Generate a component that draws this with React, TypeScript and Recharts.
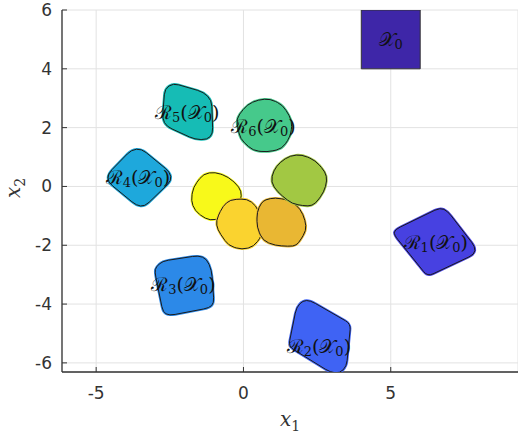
import { ScatterChart, Scatter, XAxis, YAxis, CartesianGrid, Label } from "recharts";

type Pair = [number, number];

const xTicks = [-5, 0, 5];
const yTicks = [-6, -4, -2, 0, 2, 4, 6];

// initial set and reachable sets, vertices
const initialSet: Pair[] = [[4, 4], [6, 4], [6, 6], [4, 6]];
const reach1: Pair[] = [[5.14, -1.47], [6.68, -0.72], [6.93, -0.84], [7.87, -2.06], [7.84, -2.31], [6.25, -3.06], [5.11, -1.64]];
const reach2: Pair[] = [[1.8, -4.11], [2.02, -3.88], [2.27, -3.88], [3.64, -4.67], [3.5, -6.12], [3.27, -6.35], [2.95, -6.32], [1.53, -5.44]];
const reach3: Pair[] = [[-2.97, -2.74], [-2.75, -2.54], [-1.53, -2.35], [-1.25, -2.46], [-1.08, -2.86], [-1.0, -3.97], [-1.16, -4.13], [-2.52, -4.39], [-2.73, -4.28], [-3.01, -2.91]];
const reach4: Pair[] = [[-4.6, 0.43], [-3.8, 1.25], [-3.46, 1.28], [-2.5, 0.49], [-2.44, 0.2], [-3.35, -0.68], [-3.63, -0.65], [-4.6, 0.15]];
const reach5: Pair[] = [[-2.67, 3.32], [-2.39, 3.51], [-1.36, 3.21], [-1.08, 2.93], [-1.04, 1.79], [-1.23, 1.59], [-1.65, 1.6], [-2.61, 2.04], [-2.75, 2.3]];
const reach6: Pair[] = [[0.12, 2.78], [0.51, 2.95], [0.91, 2.98], [1.34, 2.76], [1.65, 2.24], [1.61, 1.73], [1.31, 1.28], [0.8, 1.17], [0.32, 1.22], [-0.11, 1.62], [-0.25, 2.3]];
const reachYellow: Pair[] = [[-1.36, 0.43], [-0.96, 0.49], [-0.51, 0.32], [-0.14, -0.02], [-0.05, -0.31], [-0.17, -0.65], [-0.96, -1.16], [-1.3, -1.1], [-1.65, -0.82], [-1.78, -0.48], [-1.7, -0.02]];
const reachLightOrange: Pair[] = [[-0.45, -0.45], [0.12, -0.42], [0.43, -0.65], [0.63, -1.16], [0.66, -1.61], [0.36, -2.04], [-0.05, -2.15], [-0.51, -2.01], [-0.88, -1.47], [-0.93, -1.16], [-0.7, -0.67]];
const reachOrange: Pair[] = [[0.74, -0.45], [1.08, -0.38], [1.59, -0.48], [1.93, -0.76], [2.1, -1.16], [2.13, -1.5], [1.87, -1.93], [1.7, -2.04], [1.08, -2.01], [0.66, -1.84], [0.46, -1.39], [0.46, -0.87], [0.6, -0.57]];
const reachGreen: Pair[] = [[1.25, 0.83], [1.59, 1.05], [1.99, 1.08], [2.44, 0.88], [2.78, 0.49], [2.84, 0.2], [2.73, -0.19], [2.44, -0.59], [2.21, -0.68], [1.65, -0.59], [1.16, -0.19], [0.93, 0.15], [1.02, 0.54]];

const setColors = ["#3e26a8", "#4741e1", "#3f63f4", "#2c89e8", "#1ea8dc", "#16bcb5", "#46c98b", "#f8f91a", "#fad32f", "#e9b733", "#a2c843"];
const setList = [initialSet, reach1, reach2, reach3, reach4, reach5, reach6, reachYellow, reachLightOrange, reachOrange, reachGreen];

const labelNames = ["0", "1", "2", "3", "4", "5", "6"];
const labelX = [5, 6.53, 2.56, -2.04, -3.58, -1.91, 0.68];
const labelY = [5, -1.9, -5.41, -3.31, 0.32, 2.53, 2.07];

const labelData = labelNames.map((n, i) => ({ x: labelX[i], y: labelY[i], name: n }));

// closed path through the scaled points, corners softened a little
function roundedPath(pts: { x: number; y: number }[], r: number) {
  const n = pts.length;
  let d = "";
  for (let i = 0; i < n; i++) {
    const prev = pts[(i - 1 + n) % n];
    const cur = pts[i];
    const next = pts[(i + 1) % n];
    const l1 = Math.hypot(cur.x - prev.x, cur.y - prev.y) || 1;
    const l2 = Math.hypot(next.x - cur.x, next.y - cur.y) || 1;
    const r1 = Math.min(r, l1 / 2);
    const r2 = Math.min(r, l2 / 2);
    const a = { x: cur.x + ((prev.x - cur.x) * r1) / l1, y: cur.y + ((prev.y - cur.y) * r1) / l1 };
    const b = { x: cur.x + ((next.x - cur.x) * r2) / l2, y: cur.y + ((next.y - cur.y) * r2) / l2 };
    d += `${i ? "L" : "M"}${a.x},${a.y}Q${cur.x},${cur.y} ${b.x},${b.y}`;
  }
  return d + "Z";
}

const polygonLine = (fill: string, sharp: boolean) => (props: any) => {
  const pts = (props.points || []) as { x: number; y: number }[];
  if (!pts.length) return <g />;
  if (sharp) {
    const d = pts.map((p, i) => `${i ? "L" : "M"}${p.x},${p.y}`).join("") + "Z";
    return <path d={d} fill={fill} stroke="#333" strokeWidth={1} />;
  }
  const d = roundedPath(pts, 6);
  return (
    <g>
      <path d={d} fill={fill} stroke={fill} strokeWidth={2.5} strokeLinejoin="round" />
      <path d={d} fill="none" stroke="#1a1a1a" strokeWidth={1} strokeLinejoin="round" />
    </g>
  );
};

const mathFont = "'DejaVu Serif', 'Liberation Serif', serif";

const SetLabel = (props: any) => {
  const { cx, cy, payload } = props;
  if (payload.name === "0") {
    return (
      <text x={cx} y={cy} textAnchor="middle" dominantBaseline="central" fontFamily={mathFont} fontSize={19} fill="#111">
        <tspan>𝒳</tspan>
        <tspan fontSize={13} dy={5}>0</tspan>
      </text>
    );
  }
  return (
    <text x={cx} y={cy} textAnchor="middle" dominantBaseline="central" fontFamily={mathFont} fontSize={19} fill="#111">
      <tspan>ℛ</tspan>
      <tspan fontSize={13} dy={5}>{payload.name}</tspan>
      <tspan dy={-5}>(𝒳</tspan>
      <tspan fontSize={13} dy={5}>0</tspan>
      <tspan dy={-5}>)</tspan>
    </text>
  );
};

const tickStyle = { fill: "#333", fontSize: 17, fontFamily: "'DejaVu Sans', sans-serif" };

export default function App() {
  return (
    <div style={{ position: "absolute", left: 0, top: 0, width: 518, height: 437, background: "#fff" }}>
      <ScatterChart width={518} height={437} margin={{ top: 10, right: 0, bottom: 0, left: 0 }}>
        <CartesianGrid stroke="#e2e2e2" strokeWidth={1} />
        <XAxis
          type="number"
          dataKey="x"
          domain={[-6.16, 9.32]}
          ticks={xTicks}
          allowDataOverflow
          height={65}
          tickSize={-5}
          tickMargin={20}
          tick={tickStyle}
          tickLine={{ stroke: "#333" }}
          axisLine={{ stroke: "#333", strokeWidth: 1.3 }}
        >
          <Label
            content={(p: any) => {
              const vb = p.viewBox || { x: 62, y: 372, width: 456 };
              return (
                <text x={vb.x + vb.width / 2} y={vb.y + 54} textAnchor="middle" fontFamily={mathFont} fontStyle="italic" fontSize={20} fill="#333">
                  <tspan>x</tspan>
                  <tspan fontSize={14} fontStyle="normal" dy={5}>1</tspan>
                </text>
              );
            }}
          />
        </XAxis>
        <YAxis
          type="number"
          dataKey="y"
          domain={[-6.31, 6]}
          ticks={yTicks}
          allowDataOverflow
          width={62}
          tickSize={-5}
          tickMargin={15}
          tick={tickStyle}
          tickLine={{ stroke: "#333" }}
          axisLine={{ stroke: "#333", strokeWidth: 1.3 }}
        >
          <Label
            content={() => (
              <text x={20} y={188} transform="rotate(-90 20 188)" textAnchor="middle" fontFamily={mathFont} fontStyle="italic" fontSize={20} fill="#333">
                <tspan>x</tspan>
                <tspan fontSize={14} fontStyle="normal" dy={5}>2</tspan>
              </text>
            )}
          />
        </YAxis>
        {setList.map((pts, i) => (
          <Scatter
            key={i}
            data={pts.map(([x, y]) => ({ x, y }))}
            line={polygonLine(setColors[i], i === 0)}
            lineType="joint"
            shape={() => <g />}
            isAnimationActive={false}
          />
        ))}
        <Scatter data={labelData} shape={SetLabel} isAnimationActive={false} />
      </ScatterChart>
    </div>
  );
}
